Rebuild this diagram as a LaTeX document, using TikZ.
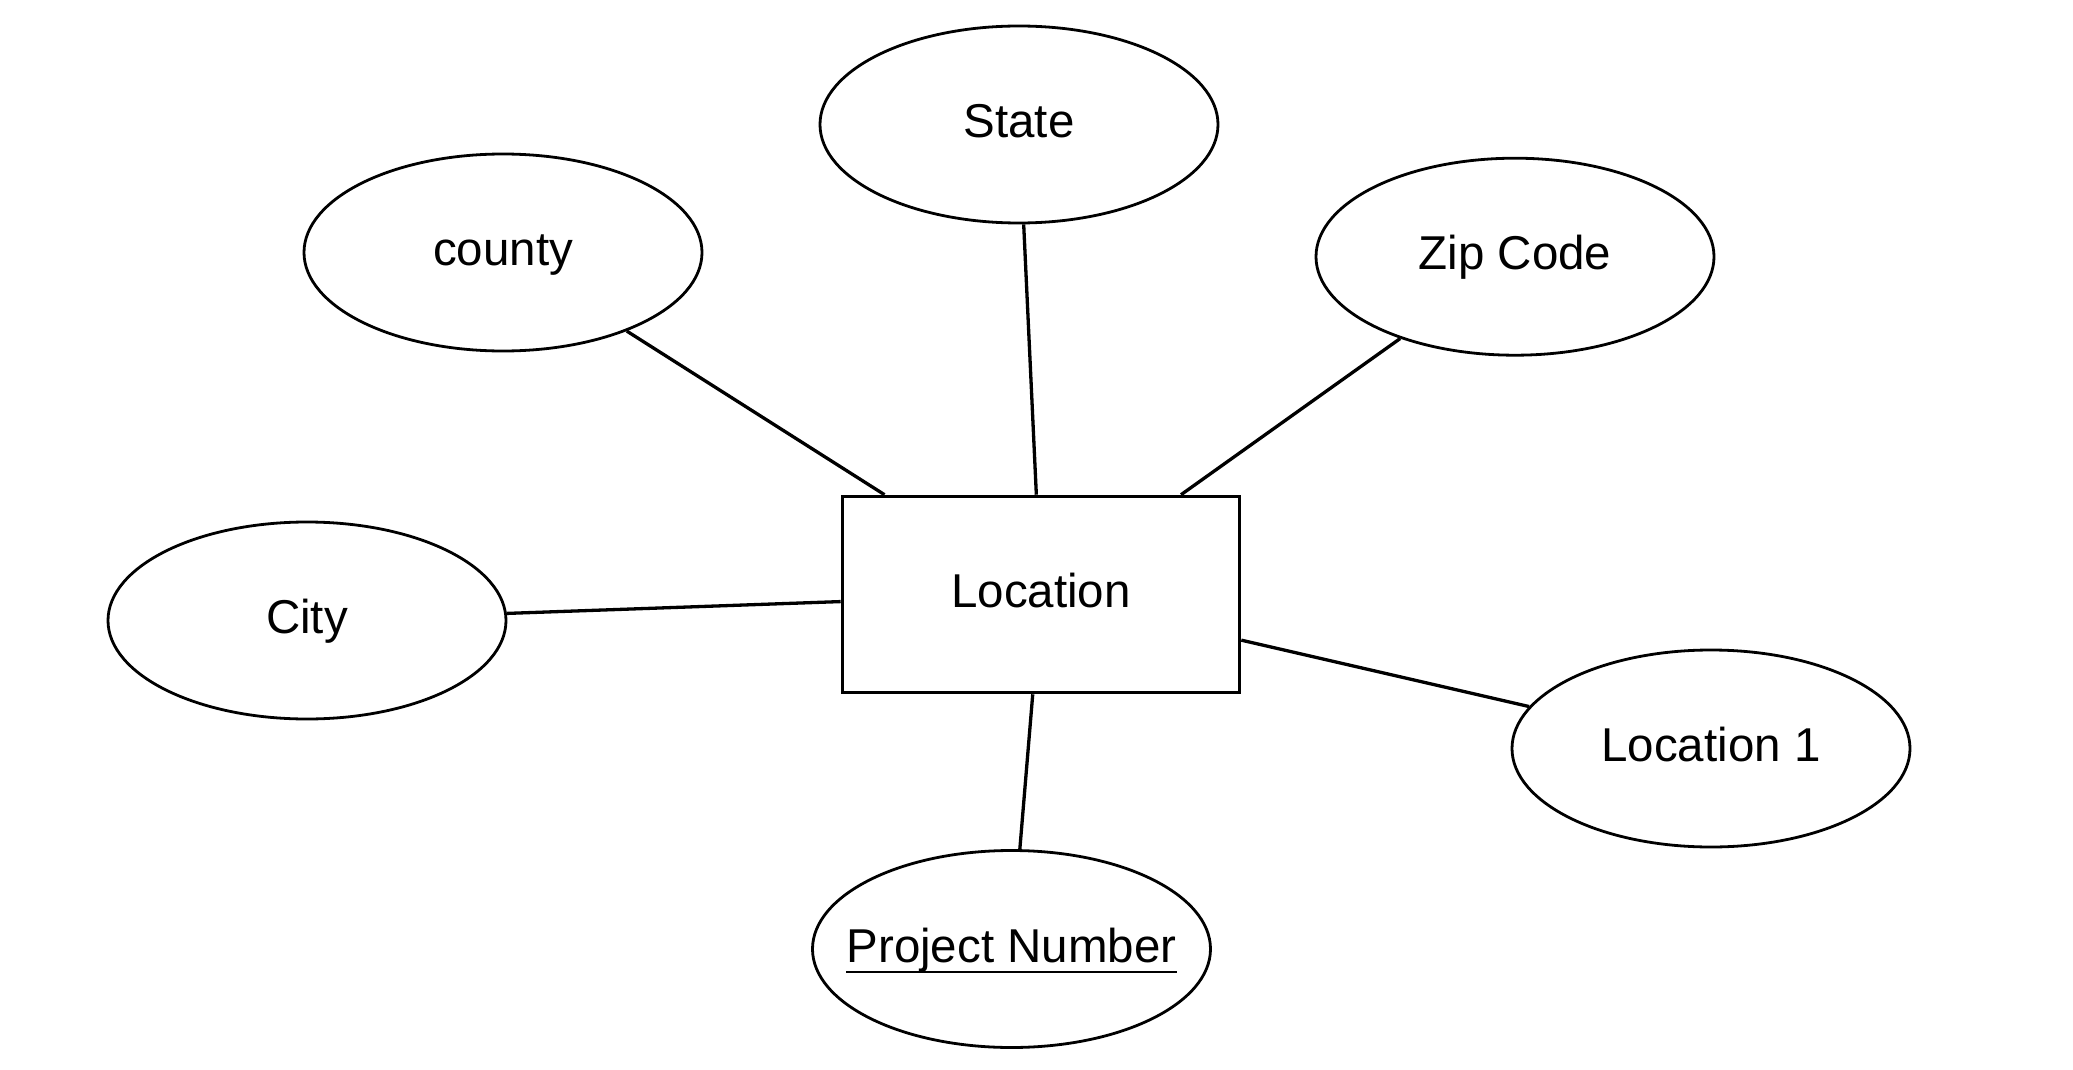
\documentclass[tikz,border=0pt]{standalone}
\usepackage{fontspec}
\setmainfont{Liberation Sans}
\usetikzlibrary{shapes.geometric}
\tikzset{
  attr/.style={ellipse, draw=black, line width=2.8pt, fill=white, inner sep=0pt,
    minimum width=398pt, minimum height=197pt, text height=36pt, text depth=10pt,
    font=\fontsize{47.5pt}{56pt}\selectfont},
  entity/.style={rectangle, draw=black, line width=3.6pt, fill=white, inner sep=0pt,
    minimum width=397pt, minimum height=196pt, text height=36pt, text depth=10pt,
    font=\fontsize{47.5pt}{56pt}\selectfont},
  lbl/.style={inner sep=0pt, text height=36pt, text depth=10pt,
    font=\fontsize{47.5pt}{56pt}\selectfont},
  conn/.style={draw=black, line width=3.3pt}
}
\begin{document}
\begin{tikzpicture}[x=1pt, y=-1pt]
\useasboundingbox[fill=white] (0,0) rectangle (2073,1070);
\node[entity] (loc) at (1041,594.5) {Location};
\node[attr] (state) at (1019,124.5) {State};
\node[attr] (county) at (503,252.5) {county};
\node[attr] (zip) at (1515,256.7) {Zip Code};
\node[attr] (city) at (307,620.5) {City};
\node[attr] (loc1) at (1711,748.5) {Location 1};
\node[attr] (pn) at (1011.5,949) {};
\node[lbl] (pnt) at (pn.center) {Project Number};
\draw[line width=2.8pt] ([yshift=-10pt]pnt.base west) -- ([yshift=-10pt]pnt.base east);
\draw[conn] (county) -- (loc);
\draw[conn] (state) -- (loc);
\draw[conn] (zip) -- (loc);
\draw[conn] (city) -- (loc);
\draw[conn] (loc1) -- (loc);
\draw[conn] (pn) -- (loc);
\end{tikzpicture}
\end{document}
